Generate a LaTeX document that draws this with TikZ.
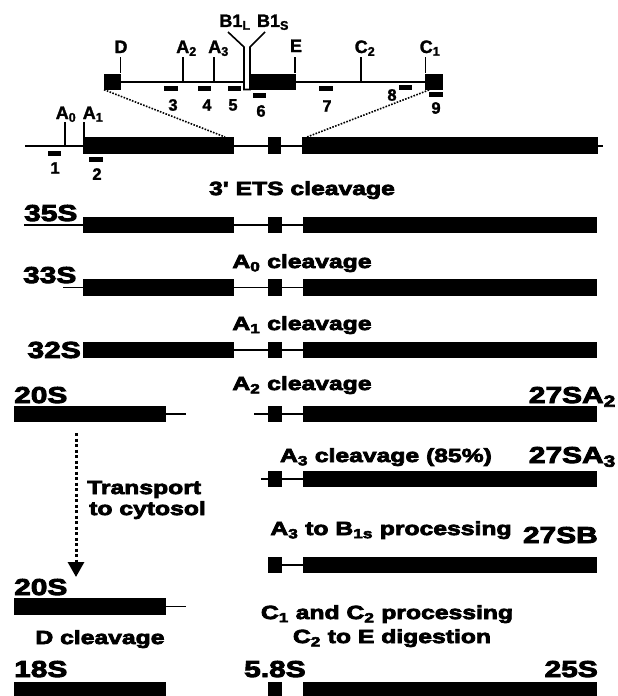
\documentclass[tikz,border=0pt]{standalone}
\usepackage{fontspec}
\setmainfont{Liberation Sans}
\newfontfamily\heavy{Liberation Sans Bold}[FakeStretch=1.3,FakeBold=4]
\newfontfamily\plainb{Liberation Sans Bold}[FakeBold=1.5]
\usetikzlibrary{arrows.meta}
\newcommand\rnarow[2]{%
  \node[seg,minimum width=151pt] (#1a) at (83,#2) {};
  \node[seg,minimum width=14pt] (#1b) at (268,#2) {};
  \node[seg,minimum width=294pt] (#1c) at (303,#2) {};
  \draw[rl] (#1a.east) -- (#1b.west) (#1b.east) -- (#1c.west);}
\newcommand\rightrow[2]{%
  \node[seg,minimum width=14pt] (#1b) at (268,#2) {};
  \node[seg,minimum width=294pt] (#1c) at (303,#2) {};
  \draw[rl] (#1b.east) -- (#1c.west);}
\begin{document}
\begin{tikzpicture}[x=1pt,y=-1pt,
  seg/.style={fill=black,draw=none,inner sep=0pt,minimum height=16.5pt,anchor=west},
  probe/.style={fill=black,draw=none,inner sep=0pt,minimum width=13.5pt,minimum height=5pt},
  rl/.style={line width=1.5pt},
  ml/.style={line width=2pt},
  tickl/.style={line width=1.8pt},
  zoomline/.style={line width=1.6pt,dash pattern=on 1.6pt off 1.4pt},
  toplab/.style={font=\plainb\fontsize{18}{20}\selectfont,inner sep=0pt,anchor=base},
  numlab/.style={font=\plainb\fontsize{16.5}{18}\selectfont,inner sep=0pt},
  rowlab/.style={font=\heavy\fontsize{23}{25}\selectfont,inner sep=0pt},
  clv/.style={font=\heavy\fontsize{19}{21}\selectfont,inner sep=0pt,anchor=base},
]
\useasboundingbox[fill=white] (0,0) rectangle (618,696);

% ---------- top detail ----------
\node[seg,minimum width=17pt,minimum height=16pt] (dbox) at (104,81.5) {};
\node[seg,minimum width=46pt,minimum height=16pt] (ebox) at (250,81.5) {};
\node[seg,minimum width=18pt,minimum height=16pt] (cbox) at (425,81.5) {};
\draw[ml] (dbox.east) -- (cbox.west);
\fill[white] (244,73.5) rectangle (250,89.5);
\coordinate (bl0) at (228,32); \coordinate (bl1) at (244,47); \coordinate (bl2) at (244,89.5);
\coordinate (bs0) at (265,32); \coordinate (bs1) at (250,47); \coordinate (bs2) at (250,89.5);
\draw[line width=1.6pt] (bl0) -- (bl1) -- (bl2) -- (bs2) -- (bs1) -- (bs0);
\node[toplab] (lB1L) at (235,27) {B1\textsubscript{L}};
\node[toplab] (lB1S) at (273,27) {B1\textsubscript{S}};
% ticks
\coordinate (tD) at (120.5,57); \coordinate (tA2) at (183,57); \coordinate (tA3) at (214,57);
\coordinate (tE) at (295,57); \coordinate (tC2) at (361,57); \coordinate (tC1) at (425.5,57);
\draw[tickl] (tD) -- (tD |- dbox.north) (tA2) -- (tA2 |- dbox.east) (tA3) -- (tA3 |- dbox.east)
  (tE) -- (tE |- ebox.north) (tC2) -- (tC2 |- dbox.east) (tC1) -- (tC1 |- cbox.north);
\node[toplab] (lD) at (121,53) {D};
\node[toplab] (lA2) at (186.5,53) {A\textsubscript{2}};
\node[toplab] (lA3) at (218.5,53) {A\textsubscript{3}};
\node[toplab] (lE) at (296,52) {E};
\node[toplab] (lC2) at (365,53) {C\textsubscript{2}};
\node[toplab] (lC1) at (430,53) {C\textsubscript{1}};
% probes
\node[probe] (p3) at (171,88.5) {};
\node[probe] (p4) at (204.5,88.5) {};
\node[probe] (p5) at (234.5,88.5) {};
\node[probe] (p6) at (259.5,95.5) {};
\node[probe] (p7) at (326,88.5) {};
\node[probe] (p8) at (405.5,87.5) {};
\node[probe] (p9) at (436,94.5) {};
\node[numlab] (n3) at (173,105) {3};
\node[numlab] (n4) at (207,105) {4};
\node[numlab] (n5) at (233,105) {5};
\node[numlab] (n6) at (261,111) {6};
\node[numlab] (n7) at (327,106) {7};
\node[numlab] (n8) at (392,95) {8};
\node[numlab] (n9) at (436,108) {9};

% ---------- primary transcript ----------
\node[seg,minimum width=151pt,minimum height=17pt] (m1) at (83,145.5) {};
\node[seg,minimum width=13pt,minimum height=17pt] (m2) at (268,145.5) {};
\node[seg,minimum width=296pt,minimum height=17pt] (m3) at (302,145.5) {};
\coordinate (m0) at (25,145.5); \coordinate (m4) at (603,145.5);
\draw[ml] (m0) -- (m1.west) (m1.east) -- (m2.west) (m2.east) -- (m3.west) (m3.east) -- (m4);
\coordinate (tA0) at (65,122); \coordinate (tA1) at (84,122);
\draw[tickl] (tA0) -- (tA0 |- m0) (tA1) -- (tA1 |- m1.north);
\node[toplab] (lA0) at (66,119) {A\textsubscript{0}};
\node[toplab] (lA1) at (93,119) {A\textsubscript{1}};
\node[probe] (p1) at (54.5,153) {};
\node[probe] (p2) at (96,159.5) {};
\node[numlab] (n1) at (55,168) {1};
\node[numlab] (n2) at (97,174) {2};
% zoom lines
\coordinate (z1) at (225,137); \coordinate (z2) at (429,90); \coordinate (z3) at (307,137);
\draw[zoomline] (dbox.south west) -- (z1) (z2) -- (z3);

\node[clv] (c0) at (302,195) {3' ETS cleavage};

% ---------- 35S ----------
\rnarow{p}{225}
\coordinate (p0) at (24,225); \draw[rl] (p0) -- (pa.west);
\node[rowlab,anchor=base west] (l35) at (24,221) {35S};
\node[clv] (c1) at (302,268) {A\textsubscript{0} cleavage};

% ---------- 33S ----------
\rnarow{q}{287.5}
\coordinate (q0) at (63,287.5); \draw[rl] (q0) -- (qa.west);
\node[rowlab,anchor=base west] (l33) at (23,283) {33S};
\node[clv] (c2) at (302,330) {A\textsubscript{1} cleavage};

% ---------- 32S ----------
\rnarow{r}{350}
\node[rowlab,anchor=east] (l32) at (81,350) {32S};
\node[clv] (c3) at (302,390) {A\textsubscript{2} cleavage};

% ---------- 20S / 27SA2 ----------
\node[rowlab,anchor=base west] (l20a) at (14,403) {20S};
\node[seg,minimum width=152pt] (s1) at (14,414) {};
\coordinate (s1e) at (186,414); \draw[rl] (s1.east) -- (s1e);
\rightrow{t}{414}
\coordinate (t0) at (254,414); \draw[rl] (t0) -- (tb.west);
\node[rowlab,anchor=base east] (l27a2) at (616,403) {27SA\textsubscript{2}};

% ---------- transport ----------
\coordinate (ar0) at (76,433); \coordinate (ar1) at (76,577);
\draw[line width=3pt,dash pattern=on 3pt off 2.5pt,-{Triangle[width=16pt,length=15pt]}] (ar0) -- (ar1);
\node[clv,anchor=base west] (tr1) at (87,494) {Transport};
\node[clv,anchor=base west] (tr2) at (89,515) {to cytosol};

% ---------- 27SA3 ----------
\node[clv] (c4) at (386,462) {A\textsubscript{3} cleavage (85\%)};
\node[rowlab,anchor=base east] (l27a3) at (616,463) {27SA\textsubscript{3}};
\rightrow{u}{479}
\coordinate (u0) at (261,479); \draw[rl] (u0) -- (ub.west);

% ---------- 27SB ----------
\node[clv] (c5) at (391,535) {A\textsubscript{3} to B\textsubscript{1s} processing};
\node[rowlab,anchor=base east] (l27b) at (598,543) {27SB};
\rightrow{v}{565}

% ---------- 20S (cytoplasm) ----------
\node[rowlab,anchor=base west] (l20b) at (14,595) {20S};
\node[seg,minimum width=152pt] (w1) at (14,606.5) {};
\coordinate (w1e) at (186,606.5); \draw[rl] (w1.east) -- (w1e);
\node[clv] (c6) at (387,619) {C\textsubscript{1} and C\textsubscript{2} processing};
\node[clv] (c7) at (392,643) {C\textsubscript{2} to E digestion};
\node[clv] (c8) at (100,644) {D cleavage};

% ---------- mature ----------
\node[rowlab,anchor=base west] (l18) at (14,677) {18S};
\node[rowlab,anchor=base west] (l58) at (244,677) {5.8S};
\node[rowlab,anchor=base east] (l25) at (598,677) {25S};
\node[seg,minimum width=152pt] (x1) at (14,690.25) {};
\node[seg,minimum width=14pt] (x2) at (268,690.25) {};
\node[seg,minimum width=294pt] (x3) at (303,690.25) {};
\end{tikzpicture}
\end{document}
